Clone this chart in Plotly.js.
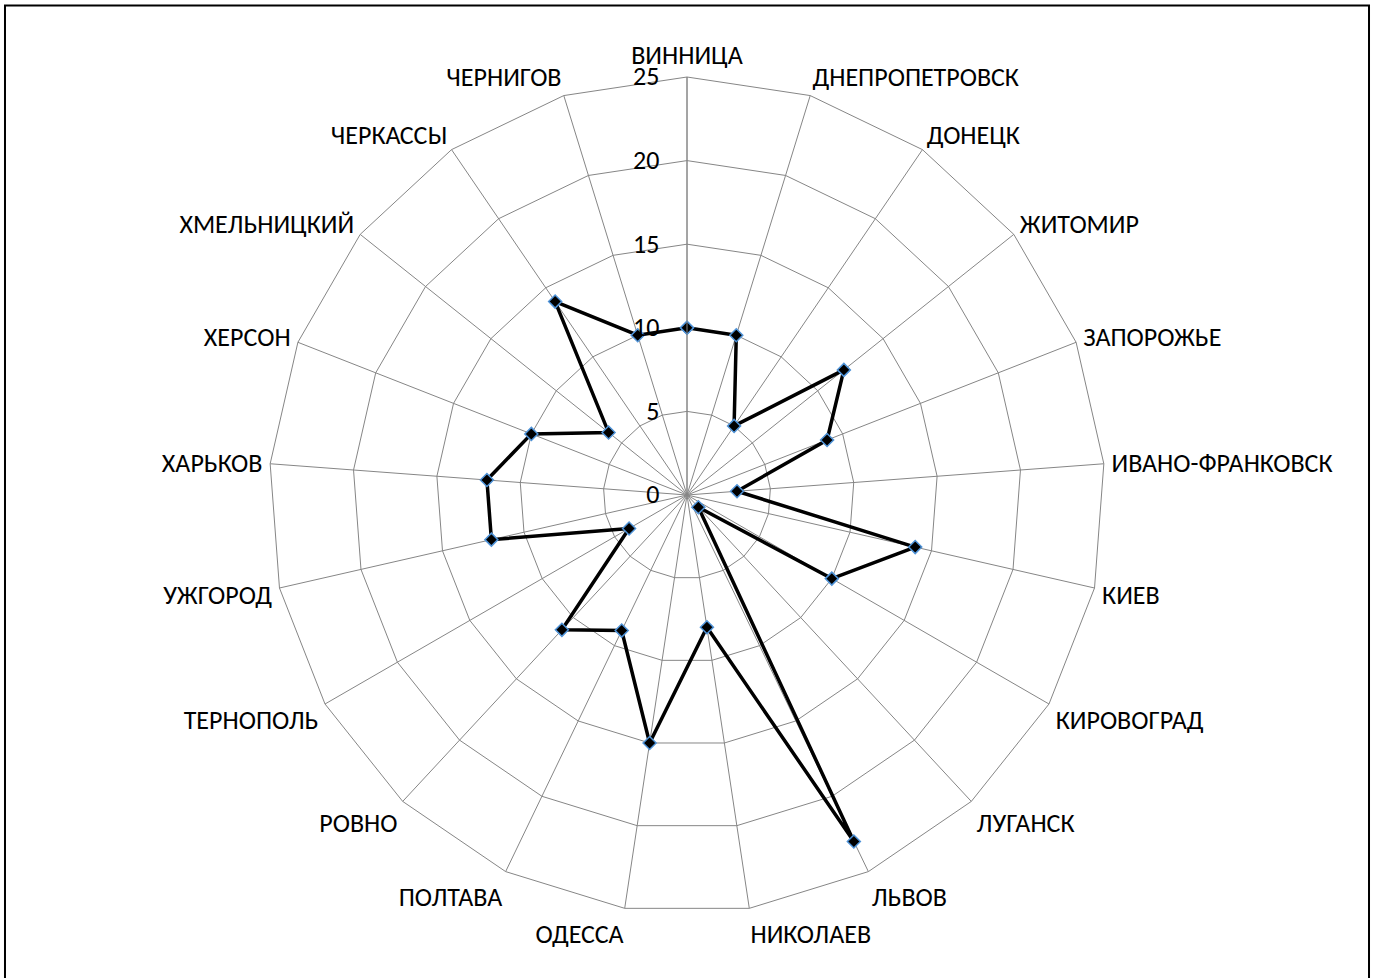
<!DOCTYPE html>
<html>
<head>
<meta charset="utf-8">
<script src="https://cdn.plot.ly/plotly-3.0.1.min.js"></script>
<style>
  html, body { margin: 0; padding: 0; background: #fff; }
  #chart { width: 1374px; height: 978px; }
</style>
</head>
<body>
<div id="chart"></div>
<script>
// Regions, clockwise from the top
const cities = [
  'ВИННИЦА', 'ДНЕПРОПЕТРОВСК', 'ДОНЕЦК', 'ЖИТОМИР', 'ЗАПОРОЖЬЕ',
  'ИВАНО-ФРАНКОВСК', 'КИЕВ', 'КИРОВОГРАД', 'ЛУГАНСК', 'ЛЬВОВ',
  'НИКОЛАЕВ', 'ОДЕССА', 'ПОЛТАВА', 'РОВНО', 'ТЕРНОПОЛЬ',
  'УЖГОРОД', 'ХАРЬКОВ', 'ХЕРСОН', 'ХМЕЛЬНИЦКИЙ', 'ЧЕРКАССЫ', 'ЧЕРНИГОВ'
];
const values = [10, 10, 5, 12, 9, 3, 14, 10, 1, 23, 8, 15, 9, 11, 4, 12, 12, 10, 6, 14, 10];
const radialTicks = [0, 5, 10, 15, 20, 25];

// close the polygon
const r = values.concat([values[0]]);
const theta = cities.concat([cities[0]]);

const trace = {
  type: 'scatterpolar',
  mode: 'lines+markers',
  r: r,
  theta: theta,
  line: { color: '#000000', width: 3.5 },
  marker: { symbol: 'diamond', size: 10, color: '#000000', line: { color: '#4f93d8', width: 1.5 } },
  hoverinfo: 'skip'
};

const font = { family: 'Carlito, "Open Sans", "Liberation Sans", sans-serif', size: 26, color: '#000' };

const layout = {
  width: 1374,
  height: 978,
  margin: { l: 269, r: 269, t: 77, b: 65 },
  paper_bgcolor: '#ffffff',
  showlegend: false,
  font: font,
  polar: {
    gridshape: 'linear',
    bgcolor: '#ffffff',
    radialaxis: {
      range: [0, 25],
      tickvals: radialTicks,
      ticktext: radialTicks.map(String),
      angle: 90,
      tickangle: 90,
      side: 'counterclockwise',
      showline: true,
      linecolor: '#868686',
      linewidth: 1,
      gridcolor: '#868686',
      gridwidth: 1,
      ticks: 'outside',
      ticklen: 18,
      tickcolor: 'rgba(0,0,0,0)',
      tickfont: font
    },
    angularaxis: {
      rotation: 90,
      direction: 'clockwise',
      categoryarray: cities,
      categoryorder: 'array',
      showline: true,
      linecolor: '#868686',
      linewidth: 1,
      gridcolor: '#868686',
      gridwidth: 1,
      ticks: 'outside',
      ticklen: 2,
      tickcolor: 'rgba(0,0,0,0)',
      tickfont: font
    }
  },
  // chart frame
  shapes: [{
    type: 'rect', xref: 'paper', yref: 'paper',
    x0: -0.3158, x1: 1.3158, y0: -0.0861, y1: 1.0855,
    line: { color: '#000000', width: 2 }, fillcolor: 'rgba(0,0,0,0)', layer: 'below'
  }]
};

Plotly.newPlot('chart', [trace], layout, { displayModeBar: false, staticPlot: true });
</script>
</body>
</html>
